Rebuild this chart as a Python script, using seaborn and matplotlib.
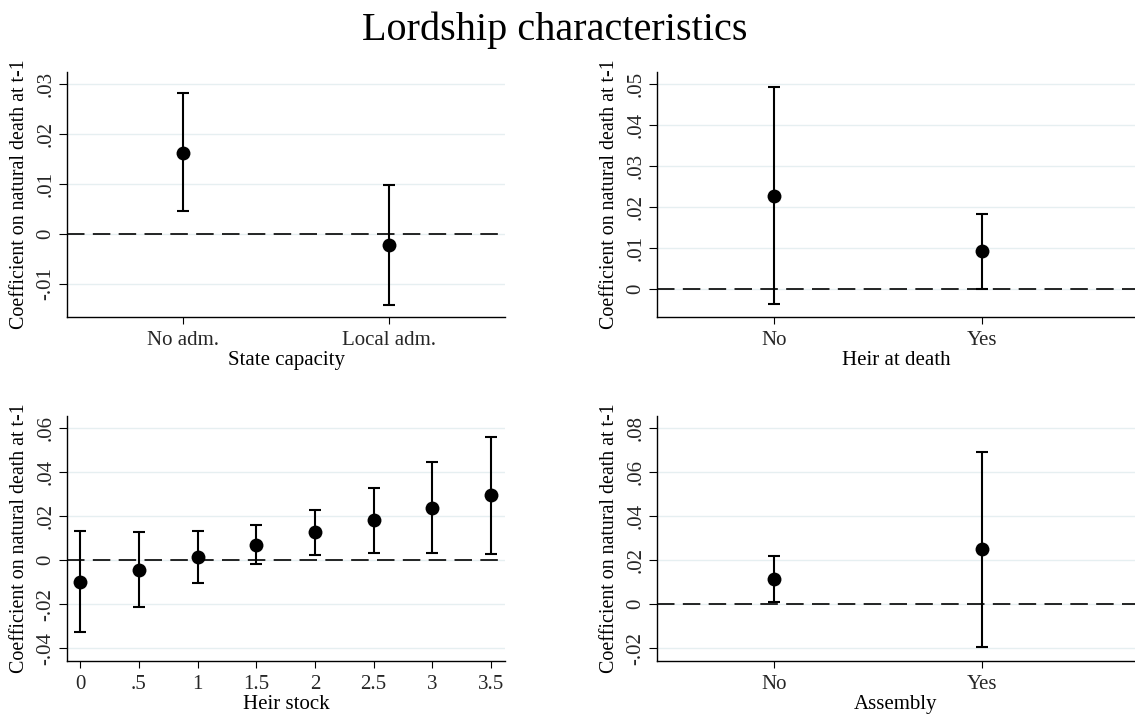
import matplotlib
matplotlib.use("Agg")
import matplotlib.pyplot as plt
from matplotlib.ticker import FuncFormatter, FixedLocator
import numpy as np
import pandas as pd
import seaborn as sns

# ---------------- data ----------------
state_labels = ["No adm.", "Local adm."]
state_est = [0.0163, -0.0022]
state_lo = [0.0046, -0.0141]
state_hi = [0.0283, 0.0098]

heir_labels = ["No", "Yes"]
heir_est = [0.0228, 0.0092]
heir_lo = [-0.0037, 0.0001]
heir_hi = [0.0494, 0.0183]

stock_x = [0, 0.5, 1, 1.5, 2, 2.5, 3, 3.5]
stock_est = [-0.0100, -0.0044, 0.0014, 0.0071, 0.0127, 0.0183, 0.0239, 0.0295]
stock_lo = [-0.0326, -0.0212, -0.0103, -0.0018, 0.0024, 0.0035, 0.0035, 0.0030]
stock_hi = [0.0132, 0.0129, 0.0133, 0.0159, 0.0230, 0.0330, 0.0445, 0.0560]

assembly_labels = ["No", "Yes"]
assembly_est = [0.0114, 0.0249]
assembly_lo = [0.0010, -0.0194]
assembly_hi = [0.0218, 0.0692]

title = "Lordship characteristics"
ylabel = "Coefficient on natural death at t-1"

# ---------------- style ----------------
sns.set_theme(style="white")
plt.rcParams["font.family"] = ["Liberation Serif", "DejaVu Serif"]
plt.rcParams["axes.unicode_minus"] = False

W, H = 1135, 717
fig = plt.figure(figsize=(W / 100, H / 100), dpi=100)
fig.patch.set_facecolor("white")


def ax_at(x0, y0, x1, y1):
    return fig.add_axes([x0 / W, 1 - y1 / H, (x1 - x0) / W, (y1 - y0) / H])


def fmt_num(v, pos=None):
    v = round(v, 6)
    if abs(v) < 1e-9:
        return "0"
    s = f"{v:g}"
    if s.startswith("0."):
        s = s[1:]
    elif s.startswith("-0."):
        s = "-" + s[2:]
    return s


def panel(ax, x, est, lo, hi, xlabel, yticks, ylim, xlim, xticks=None):
    est = np.asarray(est)
    lo = np.asarray(lo)
    hi = np.asarray(hi)
    df = pd.DataFrame({"x": x, "est": est})
    # gridlines
    for t in yticks:
        ax.axhline(t, color="#e6eff1", lw=1.0, zorder=0)
    ax.axhline(0, color="black", lw=1.2, ls=(0, (10.5, 5)), zorder=1)
    ax.errorbar(x, est, yerr=[est - lo, hi - est], fmt="none", ecolor="black",
                elinewidth=1.5, capsize=4.5, capthick=1.5, zorder=2)
    sns.scatterplot(data=df, x="x", y="est", color="black", s=100,
                    edgecolor="black", linewidth=0, ax=ax, zorder=3)
    ax.set_ylim(*ylim)
    ax.set_xlim(*xlim)
    ax.yaxis.set_major_locator(FixedLocator(yticks))
    ax.yaxis.set_major_formatter(FuncFormatter(fmt_num))
    if xticks is not None:
        ax.set_xticks(xticks)
        ax.set_xticklabels([fmt_num(v) for v in xticks])
    for s in ["top", "right"]:
        ax.spines[s].set_visible(False)
    for s in ["left", "bottom"]:
        ax.spines[s].set_color("black")
        ax.spines[s].set_linewidth(1.0)
    ax.tick_params(axis="x", which="major", direction="out", length=5, width=0.8,
                   color="black", labelsize=15, pad=5, bottom=True)
    ax.tick_params(axis="y", which="major", direction="out", length=5.5, width=0.8,
                   color="black", labelsize=15, pad=3, left=True, labelrotation=90)
    for lab in ax.get_yticklabels():
        lab.set_va("center")
    ax.set_xlabel(xlabel, fontsize=15, labelpad=1, color="black")
    ax.set_ylabel(ylabel, fontsize=14.4, labelpad=5, color="black")
    ax.grid(False)
    ax.set_facecolor("white")


ax1 = ax_at(67, 72, 505, 317)
panel(ax1, state_labels, state_est, state_lo, state_hi, "State capacity",
      [-0.01, 0, 0.01, 0.02, 0.03], (-0.0166, 0.0324), (-0.562, 1.565))

ax2 = ax_at(657, 72, 1135, 317)
panel(ax2, heir_labels, heir_est, heir_lo, heir_hi, "Heir at death",
      [0, 0.01, 0.02, 0.03, 0.04, 0.05], (-0.0068, 0.053), (-0.561, 1.736))

ax3 = ax_at(67, 416, 505, 661)
panel(ax3, stock_x, stock_est, stock_lo, stock_hi, "Heir stock",
      [-0.04, -0.02, 0, 0.02, 0.04, 0.06], (-0.0458, 0.0656), (-0.113, 3.62),
      xticks=stock_x)

ax4 = ax_at(657, 416, 1135, 661)
panel(ax4, assembly_labels, assembly_est, assembly_lo, assembly_hi, "Assembly",
      [-0.02, 0, 0.02, 0.04, 0.06, 0.08], (-0.0258, 0.0856), (-0.561, 1.736))

fig.text(555 / W, 1 - 40 / H, title, ha="center", va="baseline", fontsize=29,
         color="black")

fig.savefig("out.png", dpi=100, facecolor="white")
